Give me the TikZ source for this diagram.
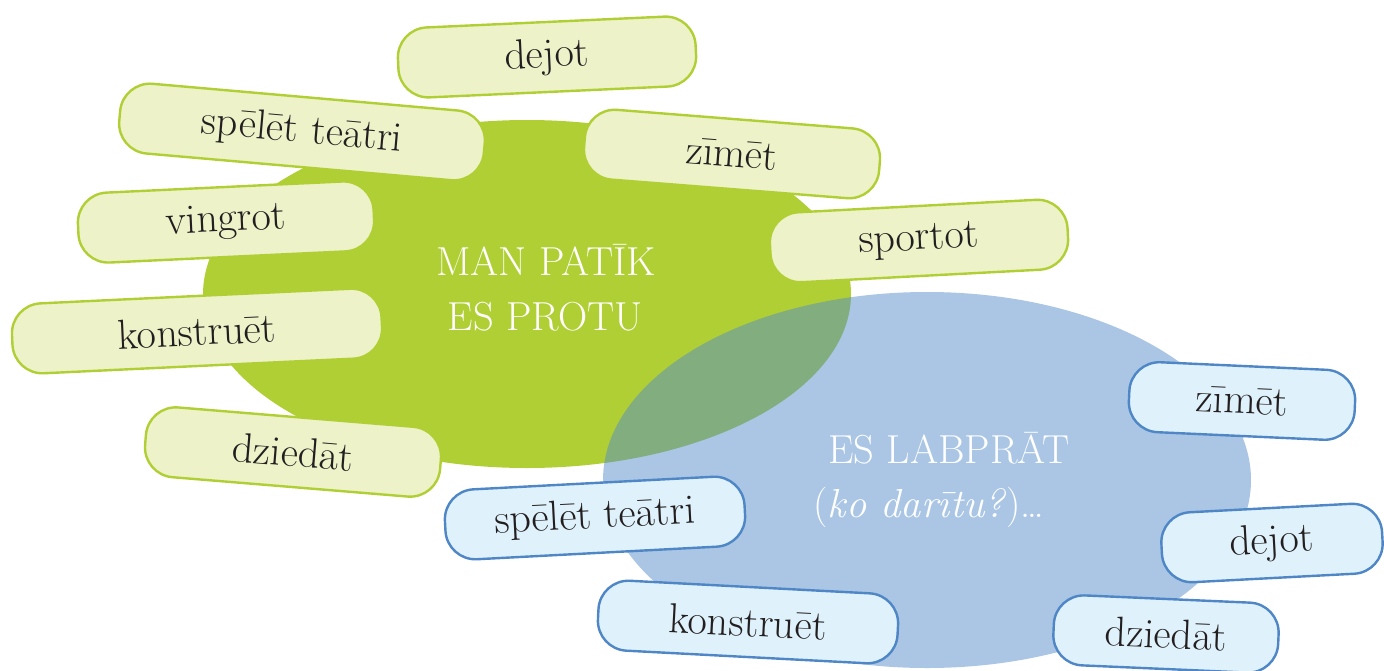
\documentclass[tikz,border=0pt]{standalone}
\usepackage{fontspec}
\usetikzlibrary{shapes.geometric}
\definecolor{ellgreen}{RGB}{176,207,52}
\definecolor{ellblue}{RGB}{85,141,201}
\definecolor{gfill}{RGB}{237,242,200}
\definecolor{gline}{RGB}{176,207,52}
\definecolor{bfill}{RGB}{223,241,250}
\definecolor{bline}{RGB}{78,134,198}
\definecolor{txt}{RGB}{35,31,32}
\tikzset{
  wordbox/.style={rectangle, rounded corners=30pt, line width=2.4pt, minimum height=70pt,
    inner sep=0pt, text=txt, font=\fontsize{42}{44}\selectfont},
  gbox/.style={wordbox, draw=gline, fill=gfill},
  bbox/.style={wordbox, draw=bline, fill=bfill},
  blob/.style={ellipse, inner sep=0pt},
  centertext/.style={text=white, inner sep=0pt, font=\fontsize{40.5}{55}\selectfont}
}
\begin{document}
\begin{tikzpicture}[x=1pt,y=-1pt]
\useasboundingbox (0,0) rectangle (1384,670);
% ellipses
\node[blob, fill=ellgreen, minimum width=648pt, minimum height=348pt] (gE) at (527,294) {};
\node[blob, fill=ellblue, fill opacity=0.5, minimum width=648pt, minimum height=376pt] (bE) at (927,480) {};
% centre texts
\node[centertext, anchor=base] (gT1) at (546,275) {MAN PATĪK};
\node[centertext, anchor=base] (gT2) at (545,330) {ES PROTU};
\node[centertext, anchor=base] (bT1) at (949,463) {ES LABPRĀT};
\node[centertext, anchor=base] (bT2) at (929,517) {(\textit{ko darītu?\/})\dots};
% green boxes
\node[gbox, minimum width=298pt, rotate=2.6] (g1) at (547,57) {dejot};
\node[gbox, minimum width=366pt, rotate=-5] (g2) at (302,132) {spēlēt teātri};
\node[gbox, minimum width=296pt, rotate=-4.5] (g3) at (732,154) {zīmēt};
\node[gbox, minimum width=296pt, rotate=2.7] (g4) at (226,222) {vingrot};
\node[gbox, minimum width=298pt, rotate=3] (g5) at (919,241) {sportot};
\node[gbox, minimum width=370pt, rotate=2.7] (g6) at (197,331) {konstruēt};
\node[gbox, minimum width=296pt, rotate=-4.7] (g7) at (293,452) {dziedāt};
% blue boxes
\node[bbox, minimum width=300pt, rotate=3] (b1) at (595,518) {spēlēt teātri};
\node[bbox, minimum width=300pt, rotate=-3] (b2) at (748,622) {konstruēt};
\node[bbox, minimum width=226pt, rotate=-2.6] (b3) at (1242,401) {zīmēt};
\node[bbox, minimum width=221pt, rotate=3] (b4) at (1272,543) {dejot};
\node[bbox, minimum width=225pt, rotate=-2.5] (b5) at (1166,634) {dziedāt};
\end{tikzpicture}
\end{document}
